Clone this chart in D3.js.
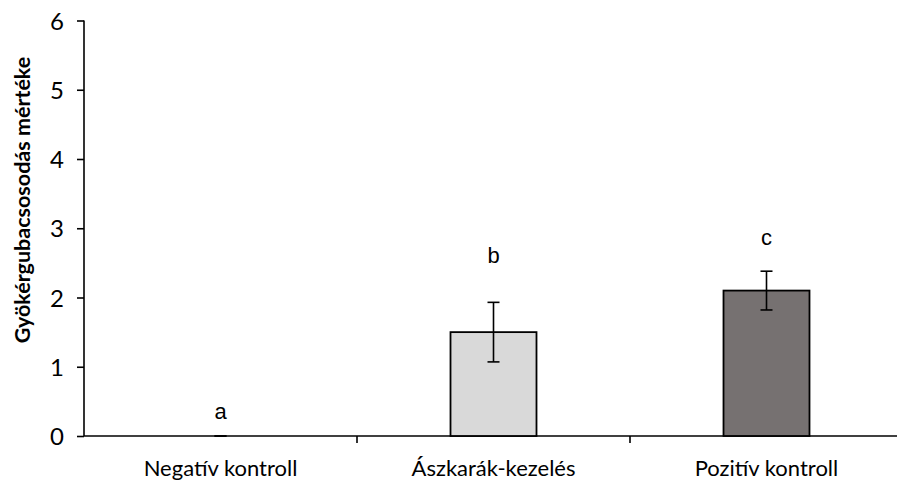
<!DOCTYPE html>
<html>
<head>
<meta charset="utf-8">
<script src="https://cdn.jsdelivr.net/npm/d3@7"></script>
<style>
  html, body { margin: 0; padding: 0; background: #fff; }
  svg { display: block; }
</style>
</head>
<body>
<svg id="chart" width="897" height="483"></svg>
<script>
// Root-gall severity per treatment (mean ± SE) with significance letters
const categories = ["Negatív kontroll", "Ászkarák-kezelés", "Pozitív kontroll"];
const means = [0, 1.5, 2.1];
const errors = [0, 0.43, 0.28];
const letters = ["a", "b", "c"];
const letterHeights = [0.25, 2.5, 2.76];
const barColors = ["#ffffff", "#d9d9d9", "#767171"];
const yTicks = [0, 1, 2, 3, 4, 5, 6];
const yLabel = "Gyökérgubacsosodás mértéke";

const svg = d3.select("#chart");
const plotLeft = 84, plotTop = 20.5, plotBottom = 436;
const band = 273;

const x = d3.scaleBand()
  .domain(categories)
  .range([plotLeft, plotLeft + band * categories.length])
  .paddingInner(0).paddingOuter(0);

const y = d3.scaleLinear().domain([0, 6]).range([plotBottom, plotTop]);

const labelFont = "Lato, 'Open Sans', sans-serif";

// y axis
const yAxis = svg.append("g")
  .attr("transform", `translate(${plotLeft},0)`)
  .call(d3.axisLeft(y).tickValues(yTicks).tickFormat(d3.format("d")).tickSize(7).tickPadding(13));
yAxis.select(".domain").attr("stroke", "#000").attr("stroke-width", 1.6).attr("d", `M0,${plotBottom}V${plotTop}`);
yAxis.selectAll(".tick line").attr("stroke", "#000").attr("stroke-width", 1.6);
yAxis.selectAll(".tick text")
  .attr("fill", "#000")
  .attr("dy", "0.36em")
  .style("font-family", labelFont)
  .style("font-size", "24px");

// y axis title
svg.append("text")
  .attr("transform", `translate(30,200) rotate(-90)`)
  .attr("text-anchor", "middle")
  .style("font-family", labelFont)
  .style("font-weight", "bold")
  .style("font-size", "21.5px")
  .attr("fill", "#000")
  .text(yLabel);

// x axis line with ticks between categories
const xAxis = svg.append("g").attr("transform", `translate(0,${plotBottom})`);
xAxis.append("line")
  .attr("x1", plotLeft).attr("x2", plotLeft + band * categories.length)
  .attr("stroke", "#000").attr("stroke-width", 1.6);
xAxis.selectAll("line.sep")
  .data(categories.slice(1))
  .join("line")
  .attr("class", "sep")
  .attr("x1", d => x(d)).attr("x2", d => x(d))
  .attr("y1", 0).attr("y2", 7)
  .attr("stroke", "#000").attr("stroke-width", 1.6);
xAxis.selectAll("text")
  .data(categories)
  .join("text")
  .attr("x", d => x(d) + x.bandwidth() / 2)
  .attr("y", 40)
  .attr("text-anchor", "middle")
  .style("font-family", labelFont)
  .style("font-size", "22px")
  .attr("fill", "#000")
  .text(d => d);

// bars
const barW = x.bandwidth() * 0.315;
const cx = i => x(categories[i]) + x.bandwidth() / 2;
svg.selectAll("rect.bar")
  .data(means)
  .join("rect")
  .attr("class", "bar")
  .attr("x", (d, i) => cx(i) - barW / 2)
  .attr("y", d => y(d))
  .attr("width", barW)
  .attr("height", d => y(0) - y(d))
  .attr("fill", (d, i) => barColors[i])
  .attr("stroke", "#000")
  .attr("stroke-width", 1.8)
  .attr("display", d => d > 0 ? null : "none");

// error bars
const capW = 12;
const eb = svg.selectAll("g.err").data(means).join("g").attr("class", "err");
eb.append("line")
  .attr("x1", (d, i) => cx(i)).attr("x2", (d, i) => cx(i))
  .attr("y1", (d, i) => y(d + errors[i])).attr("y2", (d, i) => y(d - errors[i]))
  .attr("stroke", "#000").attr("stroke-width", 1.6);
eb.append("line")
  .attr("x1", (d, i) => cx(i) - capW / 2).attr("x2", (d, i) => cx(i) + capW / 2)
  .attr("y1", (d, i) => y(d + errors[i])).attr("y2", (d, i) => y(d + errors[i]))
  .attr("stroke", "#000").attr("stroke-width", 1.6);
eb.append("line")
  .attr("x1", (d, i) => cx(i) - capW / 2).attr("x2", (d, i) => cx(i) + capW / 2)
  .attr("y1", (d, i) => y(d - errors[i])).attr("y2", (d, i) => y(d - errors[i]))
  .attr("stroke", "#000").attr("stroke-width", 1.6);

// significance letters
svg.selectAll("text.letter")
  .data(letters)
  .join("text")
  .attr("class", "letter")
  .attr("x", (d, i) => cx(i))
  .attr("y", (d, i) => y(letterHeights[i]))
  .attr("text-anchor", "middle")
  .style("font-family", "'Liberation Sans', Arial, sans-serif")
  .style("font-size", "22px")
  .attr("fill", "#000")
  .text(d => d);
</script>
</body>
</html>
